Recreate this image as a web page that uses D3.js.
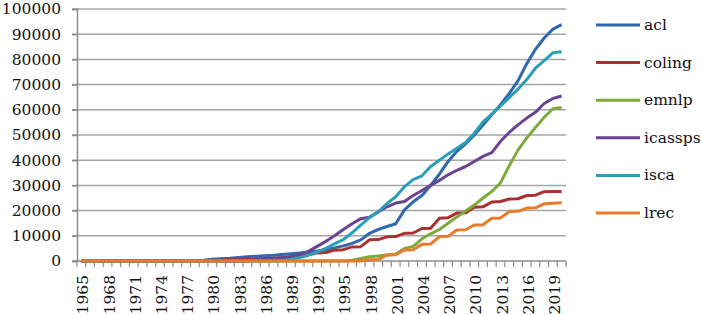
<!DOCTYPE html>
<html><head><meta charset="utf-8">
<script src="https://cdn.jsdelivr.net/npm/d3@7/dist/d3.min.js"></script>
<style>body{margin:0;background:#fff}svg{display:block}</style>
</head><body><svg id="c" width="702" height="315"></svg>
<script>
const years = d3.range(1965, 2021).map(String);
const yTicks = [0,10000,20000,30000,40000,50000,60000,70000,80000,90000,100000];
const seriesNames = ["acl","coling","emnlp","icassps","isca","lrec"];
const colors = ["#2f68ad","#a8322f","#7eaa3d","#6a4392","#2b9fb7","#e77b29"];
const acl = [0,0,0,0,0,0,0,0,0,0,0,0,0,0,
 300,700,900,1100,1400,1700,1900,2100,2300,2600,2900,
 3200,3600,4000,4500,5200,6000,7000,8400,11000,12500,
 13700,14800,20300,23500,26000,30000,34500,39500,43500,46500,
 50000,54000,58000,62000,66500,71500,78300,84000,88500,92000,93800];
const coling = [0,0,0,0,0,0,0,0,0,0,0,0,0,0,0,
 300,350,500,550,750,800,1000,1050,1400,1500,
 2200,2500,3200,3400,4300,4500,5600,5700,8400,8500,
 9600,9700,11000,11100,12900,13000,17000,17200,19000,19100,
 21300,21500,23400,23600,24600,24700,26000,26100,27500,27600,27600];
const emnlp = [0,0,0,0,0,0,0,0,0,0,0,0,0,0,0,0,0,0,0,0,0,0,0,0,0,0,0,0,0,0,0,
 300,1000,1700,2000,
 2400,2800,5000,5800,8800,10800,12500,15000,17500,19800,
 22200,25000,27600,31000,37800,44000,48800,53000,57000,60400,60900];
const icassps = [0,0,0,0,0,0,0,0,0,0,0,0,0,0,0,0,0,0,0,0,
 600,800,1000,1300,1800,
 2500,3800,5800,7800,10000,12500,14800,16800,17400,19500,
 21500,23000,23600,26000,28000,30000,32000,34200,36000,37500,
 39500,41500,43000,47500,51000,54000,56700,59000,62500,64500,65500];
const isca = [0,0,0,0,0,0,0,0,0,0,0,0,0,0,0,0,0,0,0,0,0,0,0,
 200,700,
 1400,2300,3500,5000,6800,8500,11200,14200,17200,19500,
 22800,25500,29500,32300,33800,37500,40000,42500,44700,47000,
 50700,55200,58300,61500,64800,68200,72000,76500,79500,82600,83000];
const lrec = [0,0,0,0,0,0,0,0,0,0,0,0,0,0,0,0,0,0,0,0,0,0,0,0,0,0,0,0,0,0,0,0,0,
 500,600,
 2400,2500,4400,4500,6600,6700,9700,9800,12300,12400,
 14300,14400,17000,17100,19600,19700,21000,21100,22700,22900,23100];
const labelYears = years.filter((d,i)=>i%3===0);

const data = [acl,coling,emnlp,icassps,isca,lrec];
const svg = d3.select("#c");
const font = "'DejaVu Serif', serif";
const L=77, R=566, T=9, B=261;
const x = d3.scaleBand().domain(years).range([L,R]);
const y = d3.scaleLinear().domain([0,100000]).range([B,T]);

// gridlines
svg.append("g").selectAll("line").data(yTicks.filter(d=>d>0)).join("line")
  .attr("x1",L-5).attr("x2",R).attr("y1",d=>y(d)).attr("y2",d=>y(d))
  .attr("stroke","#a6a6a6").attr("stroke-width",1.5);

// y axis
const ya = svg.append("g").attr("transform",`translate(${L},0)`)
  .call(d3.axisLeft(y).tickValues(yTicks).tickSize(5).tickPadding(11).tickFormat(d3.format("d")));
ya.select(".domain").attr("stroke","#8c8c8c").attr("stroke-width",1.5);
ya.selectAll(".tick line").attr("stroke","#8c8c8c").attr("stroke-width",1.5);
ya.selectAll("text").attr("font-family",font).attr("font-size","15.5px").attr("fill","#111");

// x axis baseline and ticks
svg.append("line").attr("x1",L-5).attr("x2",R).attr("y1",B).attr("y2",B)
  .attr("stroke","#8c8c8c").attr("stroke-width",1.5);
const edges = years.map(d=>x(d)).concat([R]);
svg.append("g").selectAll("line").data(edges).join("line")
  .attr("x1",d=>d).attr("x2",d=>d).attr("y1",B).attr("y2",B+6)
  .attr("stroke","#8c8c8c").attr("stroke-width",1.2);
// x labels
svg.append("g").selectAll("text").data(labelYears).join("text")
  .attr("transform",d=>`translate(${x(d)+x.bandwidth()/2+2},${B+14}) rotate(-90)`)
  .attr("text-anchor","end").attr("dominant-baseline","central")
  .attr("font-family",font).attr("font-size","15.5px").attr("fill","#111")
  .text(d=>d);

// lines
const line = d3.line().x((d,i)=>x(years[i])+x.bandwidth()/2).y(d=>y(d));
svg.append("g").selectAll("path").data(data).join("path")
  .attr("d",d=>line(d)).attr("fill","none")
  .attr("stroke",(d,i)=>colors[i]).attr("stroke-width",3)
  .attr("stroke-linejoin","round");

// legend
const lg = svg.append("g").selectAll("g").data(seriesNames).join("g")
  .attr("transform",(d,i)=>`translate(596,${25+i*37.6})`);
lg.append("line").attr("x1",0).attr("x2",44).attr("stroke",(d,i)=>colors[i]).attr("stroke-width",3);
lg.append("text").attr("x",48).attr("dominant-baseline","central")
  .attr("font-family",font).attr("font-size","15.5px").attr("fill","#111").text(d=>d);
</script></body></html>
